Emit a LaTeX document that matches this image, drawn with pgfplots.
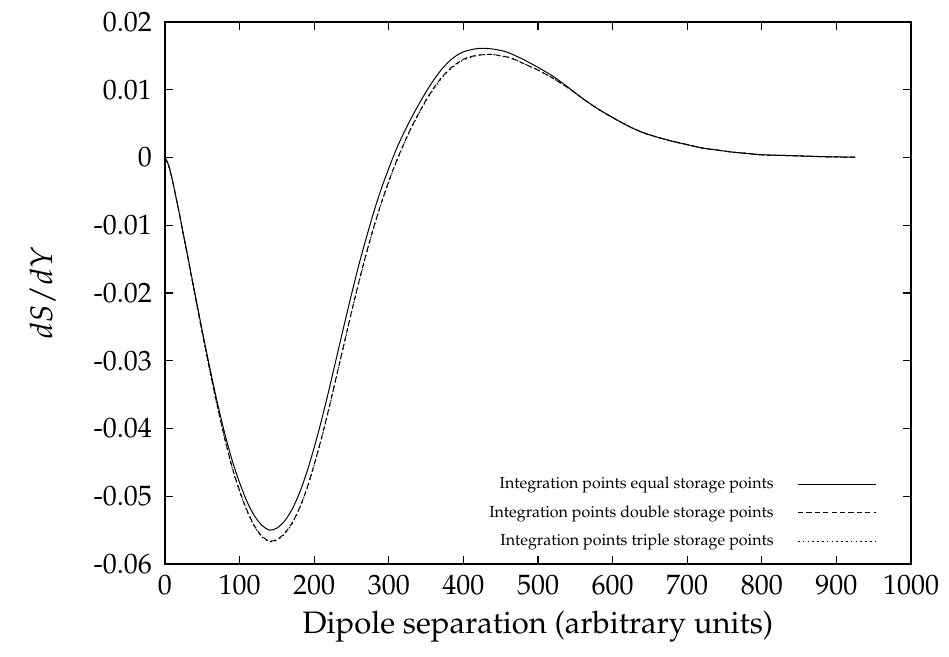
\documentclass[border=0pt]{standalone}
\usepackage[T1]{fontenc}
\usepackage{mathpazo}
\usepackage{pgfplots}
\usepackage{pgfplotstable}
\pgfplotsset{compat=1.18}

\pgfplotstableread{
x y
0 0
5 -0.0012
10 -0.0034
15 -0.0060
20 -0.0087
25 -0.0115
30 -0.0143
40 -0.0200
50 -0.0256
60 -0.0310
70 -0.0361
80 -0.0407
90 -0.0447
100 -0.0480
110 -0.0508
120 -0.0529
130 -0.0543
140 -0.0550
150 -0.0547
160 -0.0537
170 -0.0520
180 -0.0496
190 -0.0465
200 -0.0428
210 -0.0387
220 -0.0342
230 -0.0295
240 -0.0248
250 -0.0202
260 -0.0158
270 -0.0118
280 -0.0080
290 -0.0046
300 -0.0016
310 0.0012
320 0.0036
330 0.0058
340 0.0078
350 0.0097
360 0.0114
370 0.0129
380 0.0141
390 0.0150
400 0.0156
410 0.0159
420 0.0161
430 0.0161
440 0.0160
450 0.0158
460 0.0155
470 0.0150
480 0.0145
490 0.0139
500 0.0133
520 0.0120
540 0.0104
560 0.0087
580 0.0072
600 0.0059
620 0.0047
640 0.0037
660 0.0030
680 0.0024
700 0.0019
720 0.0014
740 0.0011
760 0.0008
780 0.0006
800 0.0004
830 0.0003
860 0.0002
890 0.0001
925 0.00005
}\equaltab

\pgfplotstableread{
x y
0 0
5 -0.0012
10 -0.0034
15 -0.0060
20 -0.0087
25 -0.0116
30 -0.0144
40 -0.0202
50 -0.0259
60 -0.0314
70 -0.0366
80 -0.0414
90 -0.0457
100 -0.0492
110 -0.0521
120 -0.0544
130 -0.0559
140 -0.0566
150 -0.0564
160 -0.0555
170 -0.0540
180 -0.0518
190 -0.0489
200 -0.0453
210 -0.0413
220 -0.0369
230 -0.0322
240 -0.0275
250 -0.0228
260 -0.0183
270 -0.0141
280 -0.0102
290 -0.0067
300 -0.0035
310 -0.0006
320 0.0020
330 0.0044
340 0.0065
350 0.0085
360 0.0102
370 0.0117
380 0.0129
390 0.0138
400 0.0145
410 0.0149
420 0.0151
430 0.0152
440 0.0152
450 0.0150
460 0.0148
470 0.0144
480 0.0139
490 0.0134
500 0.0129
520 0.0117
540 0.0103
560 0.0087
580 0.0072
600 0.0059
620 0.0047
640 0.0037
660 0.0030
680 0.0024
700 0.0019
720 0.0014
740 0.0011
760 0.0008
780 0.0006
800 0.0004
830 0.0003
860 0.0002
890 0.0001
925 0.00005
}\doubletab

\pgfplotstableread{
x y
0 0
5 -0.0012
10 -0.0034
15 -0.0060
20 -0.0087
25 -0.0116
30 -0.0144
40 -0.0202
50 -0.0259
60 -0.0315
70 -0.0367
80 -0.0415
90 -0.0458
100 -0.0493
110 -0.0522
120 -0.0545
130 -0.0560
140 -0.0567
150 -0.0565
160 -0.0556
170 -0.0541
180 -0.0519
190 -0.0490
200 -0.0454
210 -0.0414
220 -0.0370
230 -0.0323
240 -0.0276
250 -0.0229
260 -0.0184
270 -0.0142
280 -0.0103
290 -0.0068
300 -0.0036
310 -0.0007
320 0.0019
330 0.0043
340 0.0064
350 0.0084
360 0.0101
370 0.0116
380 0.0128
390 0.0137
400 0.0144
410 0.0148
420 0.0151
430 0.0152
440 0.0152
450 0.0150
460 0.0148
470 0.0144
480 0.0139
490 0.0134
500 0.0129
520 0.0117
540 0.0103
560 0.0087
580 0.0072
600 0.0059
620 0.0047
640 0.0037
660 0.0030
680 0.0024
700 0.0019
720 0.0014
740 0.0011
760 0.0008
780 0.0006
800 0.0004
830 0.0003
860 0.0002
890 0.0001
925 0.00005
}\tripletab

\begin{document}
\begin{tikzpicture}
\begin{axis}[
  scale only axis,
  width=373pt, height=271pt,
  xmin=0, xmax=1000, ymin=-0.06, ymax=0.02,
  xtick={0,100,...,1000},
  ytick={-0.06,-0.05,-0.04,-0.03,-0.02,-0.01,0,0.01,0.02},
  yticklabels={-0.06,-0.05,-0.04,-0.03,-0.02,-0.01,0,0.01,0.02},
  xticklabels={0,100,200,300,400,500,600,700,800,900,1000},
  scaled y ticks=false,
  tick align=inside,
  major tick length=4pt,
  tick style={line width=0.6pt, black},
  axis line style={line width=0.8pt},
  ticklabel style={font=\fontsize{14}{16}\selectfont},
  yticklabel style={xshift=-3pt},
  xticklabel style={yshift=-2pt},
  xlabel={Dipole separation (arbitrary units)},
  ylabel={$dS/dY$},
  label style={font=\fontsize{15.5}{18}\selectfont},
  xlabel style={yshift=-1pt},
  ylabel style={yshift=12pt},
  legend plot pos=right,
  legend cell align=right,
  legend style={at={(rel axis cs:1,0)}, anchor=south east, xshift=-17pt, yshift=5.5pt,
    draw=none, fill=none, font=\fontsize{8}{9}\selectfont, row sep=3pt,
    column sep=10pt, inner sep=0pt},
  legend image code/.code={\draw[#1] (0pt,0pt) -- (39pt,0pt);},
]
\addplot[black, line width=0.5pt, smooth] table {\equaltab};
\addlegendentry{Integration points equal storage points}
\addplot[black, line width=0.5pt, smooth, dash pattern=on 2.6pt off 1.6pt] table {\doubletab};
\addlegendentry{Integration points double storage points}
\addplot[black, line width=0.5pt, smooth, dash pattern=on 0.8pt off 1.6pt] table {\tripletab};
\addlegendentry{Integration points triple storage points}
\end{axis}
\pgfresetboundingbox
\path (-82.5pt,-46.5pt) rectangle (392pt,282pt);
\end{tikzpicture}
\end{document}
